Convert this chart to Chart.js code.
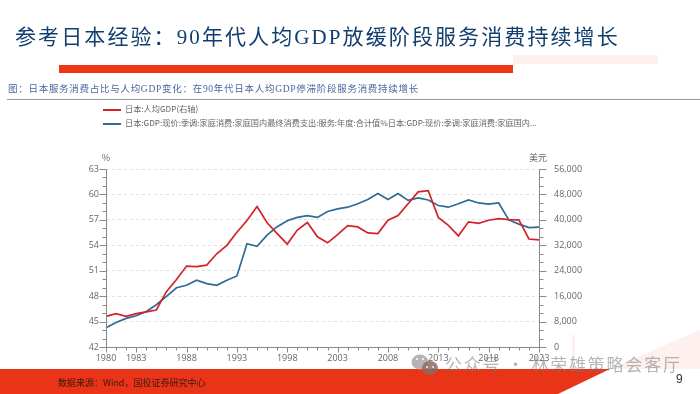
<!DOCTYPE html>
<html>
<head>
<meta charset="utf-8">
<script src="https://cdn.jsdelivr.net/npm/chart.js@4"></script>
<style>
  html, body { margin: 0; padding: 0; background: #fff; }
  #page { position: relative; width: 700px; height: 394px; overflow: hidden; font-family: "Noto Sans CJK SC", sans-serif; }
  #page div { position: absolute; white-space: nowrap; }
  #chartWrap { left: 0; top: 0; width: 700px; height: 394px; }
  #title { left: 15px; top: 22px; font-family: "Liberation Serif", "Noto Sans CJK SC"; font-size: 21px; line-height: 30px; letter-spacing: 2.1px; color: #123d6f; font-weight: 400; }
  #barRed { left: 59px; top: 65px; width: 454px; height: 8px; background: #ee3516; }
  #barPale { left: 513px; top: 55px; width: 145px; height: 8.5px; background: #fdf0ee; }
  #subtitle { left: 8px; top: 81px; font-family: "Liberation Serif", "Noto Sans CJK SC"; font-size: 9.5px; line-height: 16px; letter-spacing: 0.72px; color: #48689f; }
  #rule { left: 7px; top: 99px; width: 693px; height: 1px; background: #999; }
  .legendRow { left: 103px; font-size: 8.18px; line-height: 12px; color: #666; }
  .legendKey { display: inline-block; width: 18px; height: 2px; margin-right: 4px; vertical-align: middle; }
  #source { left: 58px; top: 376px; font-size: 9px; line-height: 14px; color: #3a1a10; }
  #pageNo { left: 676px; top: 371px; font-family: "Liberation Sans"; font-size: 12px; line-height: 16px; color: #333; }
  #mark { left: 445px; top: 352px; font-size: 17px; line-height: 24px; letter-spacing: 1.8px; color: rgba(120,120,120,.55); }
  svg { position: absolute; left: 0; top: 0; }
</style>
</head>
<body>
<div id="page">
  <svg width="700" height="394">
    <rect x="572" y="335" width="3" height="34" fill="#fbf2f0"/>
    <polygon points="610,369 700,369 700,330" fill="#fdf0ee"/>
    <polygon points="0,369 610,369 558,394 0,394" fill="#e93417"/>
  </svg>
  <div id="chartWrap"><canvas id="myChart"></canvas></div>
  <div id="title">参考日本经验：90年代人均GDP放缓阶段服务消费持续增长</div>
  <div id="barPale"></div>
  <div id="barRed"></div>
  <div id="subtitle">图：日本服务消费占比与人均GDP变化：在90年代日本人均GDP停滞阶段服务消费持续增长</div>
  <div id="rule"></div>
  <div id="source">数据来源：Wind，国投证券研究中心</div>
  <div id="pageNo">9</div>
  <svg width="700" height="394">
    <ellipse cx="420" cy="362" rx="8.5" ry="7.5" fill="#a8a8a8" fill-opacity="0.85"/>
    <ellipse cx="430" cy="368" rx="8" ry="7" fill="#8c6a62" fill-opacity="0.85"/>
    <circle cx="417" cy="359" r="1" fill="#fff"/>
    <circle cx="423" cy="359" r="1" fill="#fff"/>
    <circle cx="427" cy="367" r="0.9" fill="#fff"/>
    <circle cx="433" cy="367" r="0.9" fill="#fff"/>
  </svg>
  <div id="mark">公众号 · 林荣雄策略会客厅</div>
</div>
<script>
// annual data
const years = ['1980','1981','1982','1983','1984','1985','1986','1987','1988','1989','1990','1991','1992','1993','1994','1995','1996','1997','1998','1999','2000','2001','2002','2003','2004','2005','2006','2007','2008','2009','2010','2011','2012','2013','2014','2015','2016','2017','2018','2019','2020','2021','2022','2023'];
const xLabels = ['1980','1983','1988','1993','1998','2003','2008','2013','2018','2023'];
const gdpPerCapita = [9700,10550,9700,10550,11075,11700,17450,21300,25500,25300,25800,29350,32000,36150,39800,44200,39100,35700,32400,36800,39200,34700,32800,35400,38200,37800,35900,35700,39900,41400,45100,48800,49200,40800,38300,35000,39400,38900,39900,40400,40100,40000,34000,33750];
const serviceShare = [44.3,44.9,45.4,45.7,46.2,47.0,48.0,49.0,49.3,49.9,49.5,49.3,49.9,50.4,54.2,53.9,55.2,56.2,56.9,57.3,57.5,57.3,58.0,58.3,58.5,58.9,59.4,60.1,59.4,60.1,59.3,59.6,59.35,58.7,58.5,58.9,59.35,59.0,58.85,59.0,57.0,56.5,56.1,56.15];
const redLabel = '日本:人均GDP(右轴)';
const blueLabel = '日本:GDP:现价:季调:家庭消费:家庭国内最终消费支出:服务:年度:合计值%日本:GDP:现价:季调:家庭消费:家庭国内...';
const red = '#d2232a';
const blue = '#2f6b92';
const axisColor = '#8a8a8a';
const textColor = '#666';

// legend is plain html, top rows above the plot
[[redLabel, red, 103], [blueLabel, blue, 117]].forEach(([text, color, top]) => {
  const row = document.createElement('div');
  row.className = 'legendRow';
  row.style.top = top + 'px';
  row.innerHTML = '<span class="legendKey" style="background:' + color + '"></span>' + text;
  document.getElementById('page').appendChild(row);
});

// axis lines, minor ticks and the two unit captions
const axisMarks = {
  id: 'axisMarks',
  afterDatasetsDraw(chart) {
    const { ctx, chartArea, scales } = chart;
    ctx.save();
    ctx.strokeStyle = axisColor;
    ctx.lineWidth = 1;
    const line = (x1, y1, x2, y2) => {
      ctx.beginPath();
      ctx.moveTo(Math.round(x1) + 0.5, Math.round(y1) + 0.5);
      ctx.lineTo(Math.round(x2) + 0.5, Math.round(y2) + 0.5);
      ctx.stroke();
    };
    line(chartArea.left, chartArea.top, chartArea.left, chartArea.bottom);
    line(chartArea.right, chartArea.top, chartArea.right, chartArea.bottom);
    line(chartArea.left, chartArea.bottom, chartArea.right, chartArea.bottom);
    // three divisions per labelled step on both value axes
    for (let v = 42; v <= 63; v += 1) {
      const y = scales.y.getPixelForValue(v);
      const major = v % 3 === 0;
      line(chartArea.left - (major ? 7 : 4), y, chartArea.left, y);
      line(chartArea.right, y, chartArea.right + (major ? 7 : 4), y);
    }
    years.forEach((yr, i) => {
      const x = scales.x.getPixelForValue(i);
      line(x, chartArea.bottom, x, chartArea.bottom + (xLabels.includes(yr) ? 5 : 3));
    });
    ctx.fillStyle = textColor;
    ctx.font = '9px "Noto Sans CJK SC"';
    ctx.textAlign = 'center';
    ctx.fillText('%', chartArea.left, chartArea.top - 8);
    ctx.fillText('美元', chartArea.right - 1, chartArea.top - 8);
    ctx.restore();
  }
};

const data = {
  labels: years,
  datasets: [
    { label: redLabel, data: gdpPerCapita, yAxisID: 'y2', borderColor: red, borderWidth: 1.7, pointRadius: 0, tension: 0 },
    { label: blueLabel, data: serviceShare, yAxisID: 'y', borderColor: blue, borderWidth: 1.7, pointRadius: 0, tension: 0 }
  ]
};

const config = {
  type: 'line',
  data,
  options: {
    responsive: false,
    animation: false,
    layout: { padding: { left: 76, right: 116, top: 169, bottom: 24 } },
    plugins: { legend: { display: false }, tooltip: { enabled: false } },
    scales: {
      x: {
        offset: false,
        grid: { display: false, drawTicks: false },
        border: { display: false },
        ticks: {
          autoSkip: false, maxRotation: 0, padding: 6,
          color: textColor, font: { family: 'Open Sans', size: 9 },
          callback(v) { return xLabels.includes(years[v]) ? years[v] : ''; }
        }
      },
      y: {
        position: 'left', min: 42, max: 63,
        afterFit(s) { s.width = 30; },
        grid: {
          drawTicks: false,
          color: (c) => c.tick.value === 42 ? 'transparent' : '#e0e0e0',
          lineWidth: 1
        },
        border: { display: false, dash: [3, 3] },
        ticks: { stepSize: 3, padding: 7, color: textColor, font: { family: 'Open Sans', size: 9 } }
      },
      y2: {
        position: 'right', min: 0, max: 56000,
        afterFit(s) { s.width = 45; },
        grid: { display: false, drawOnChartArea: false },
        border: { display: false },
        ticks: {
          stepSize: 8000, padding: 7, color: textColor, font: { family: 'Open Sans', size: 9 },
          callback(v) { return v.toLocaleString('en-US'); }
        }
      }
    }
  },
  plugins: [axisMarks]
};

const canvas = document.getElementById('myChart');
canvas.width = 700;
canvas.height = 394;
const myChart = new Chart(canvas.getContext('2d'), config);
</script>
</body>
</html>
